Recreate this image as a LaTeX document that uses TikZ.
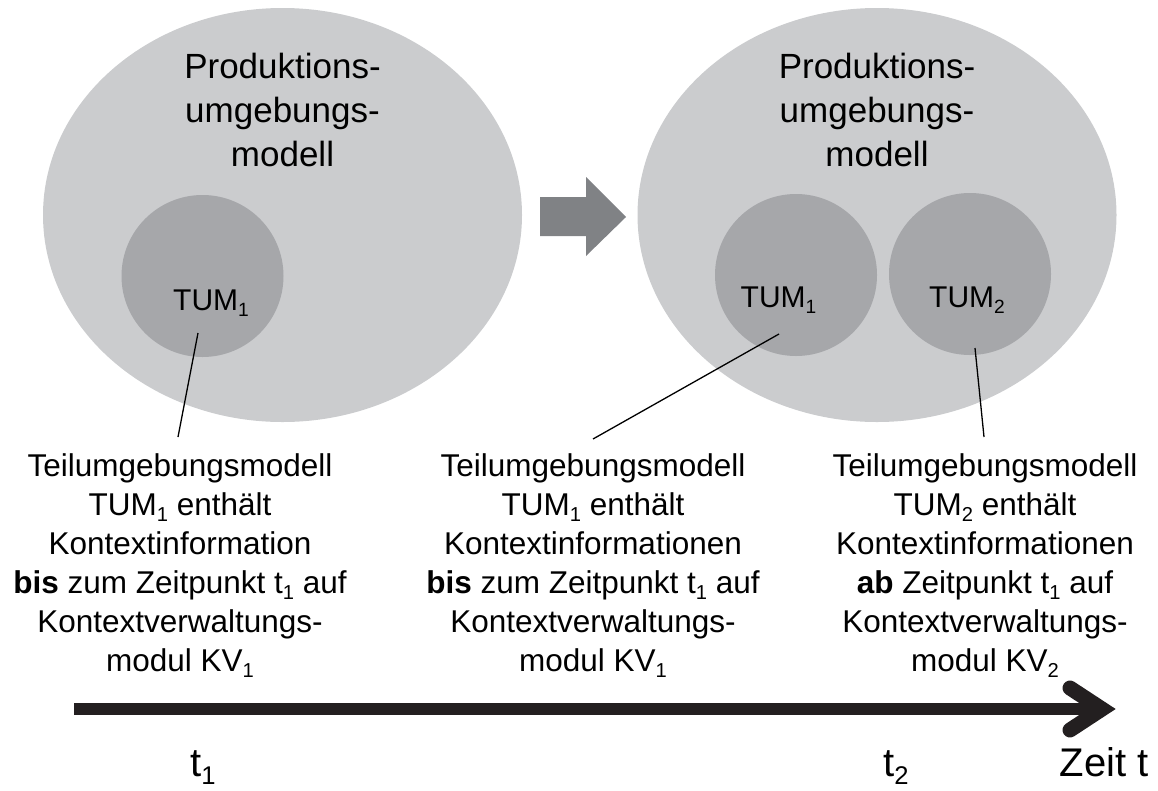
\documentclass[tikz,border=0pt]{standalone}
\usepackage{fontspec}
\setmainfont{Liberation Sans}
\usetikzlibrary{shapes.geometric}
\definecolor{outerfill}{HTML}{CBCCCE}
\definecolor{innerfill}{HTML}{A6A7AA}
\definecolor{arrowfill}{HTML}{808285}
\definecolor{axisink}{HTML}{231F20}
% small index set low beside the letter
\newcommand\sub[1]{\raisebox{-0.2em}{\scalebox{0.64}{#1}}}
\begin{document}
\begin{tikzpicture}[x=1pt,y=-1pt,
  model/.style={ellipse, fill=outerfill, inner sep=0pt,
    minimum width=479pt, minimum height=414pt},
  submodel/.style={circle, fill=innerfill, inner sep=0pt, minimum size=162pt},
  title/.style={align=center, inner sep=0pt, anchor=north,
    font=\fontsize{35}{44}\selectfont},
  tumlabel/.style={inner sep=0pt, anchor=base, font=\fontsize{30}{36}\selectfont},
  note/.style={align=center, inner sep=0pt, anchor=north,
    font=\fontsize{31.5}{39}\selectfont},
  timelabel/.style={inner sep=0pt, anchor=base, font=\fontsize{40}{48}\selectfont},
  leader/.style={draw=black, line width=1.3pt},
  axis/.style={draw=axisink, line width=12pt},
  axishead/.style={draw=axisink, line width=15pt, line cap=round, line join=miter}]

\useasboundingbox (0,0) rectangle (1158,790);

% state before t1
\node[model] (pum1) at (282.5,215) {};
\node[title] (pum1t) at (282.5,53) {Produktions-\\umgebungs-\\modell};
\node[submodel] (tumA) at (202.5,276) {};
\node[tumlabel] (tumAt) at (211,310) {TUM\sub1};

% transition
\fill[arrowfill] (540,197) -- (586,197) -- (586,177) -- (626,217)
  -- (586,256) -- (586,236) -- (540,236) -- cycle;

% state after t1
\node[model] (pum2) at (877,215) {};
\node[title] (pum2t) at (877,53) {Produktions-\\umgebungs-\\modell};
\node[submodel] (tumB) at (796,275) {};
\node[submodel] (tumC) at (970,274) {};
\node[tumlabel] (tumBt) at (778.5,307) {TUM\sub1};
\node[tumlabel] (tumCt) at (967,307) {TUM\sub2};

% descriptions
\node[note] (descA) at (180,453) {Teilumgebungsmodell\\TUM\sub1 enthält\\Kontextinformation\\
  \textbf{bis} zum Zeitpunkt t\sub1 auf\\Kontextverwaltungs-\\modul KV\sub1};
\node[note] (descB) at (593,453) {Teilumgebungsmodell\\TUM\sub1 enthält\\Kontextinformationen\\
  \textbf{bis} zum Zeitpunkt t\sub1 auf\\Kontextverwaltungs-\\modul KV\sub1};
\node[note] (descC) at (985,453) {Teilumgebungsmodell\\TUM\sub2 enthält\\Kontextinformationen\\
  \textbf{ab} Zeitpunkt t\sub1 auf\\Kontextverwaltungs-\\modul KV\sub2};

% leader lines
\coordinate (inA) at (198,333);
\coordinate (inB) at (779,334);
\coordinate (inC) at (975,348);
\coordinate (endA) at (178,437);
\coordinate (endB) at (593,439);
\coordinate (endC) at (984,437);
\draw[leader] (inA) -- (endA);
\draw[leader] (inB) -- (endB);
\draw[leader] (inC) -- (endC);

% time axis
\coordinate (axstart) at (74,709);
\coordinate (axend) at (1102,709);
\coordinate (hdup) at (1070,688);
\coordinate (hddown) at (1070,730);
\draw[axis] (axstart) -- (axend);
\draw[axishead] (hdup) -- (axend) -- (hddown);

\node[timelabel] (tone) at (203,776) {t\sub1};
\node[timelabel] (ttwo) at (896,776) {t\sub2};
\node[timelabel, anchor=base east] (zeit) at (1149,776) {Zeit t};
\end{tikzpicture}
\end{document}
